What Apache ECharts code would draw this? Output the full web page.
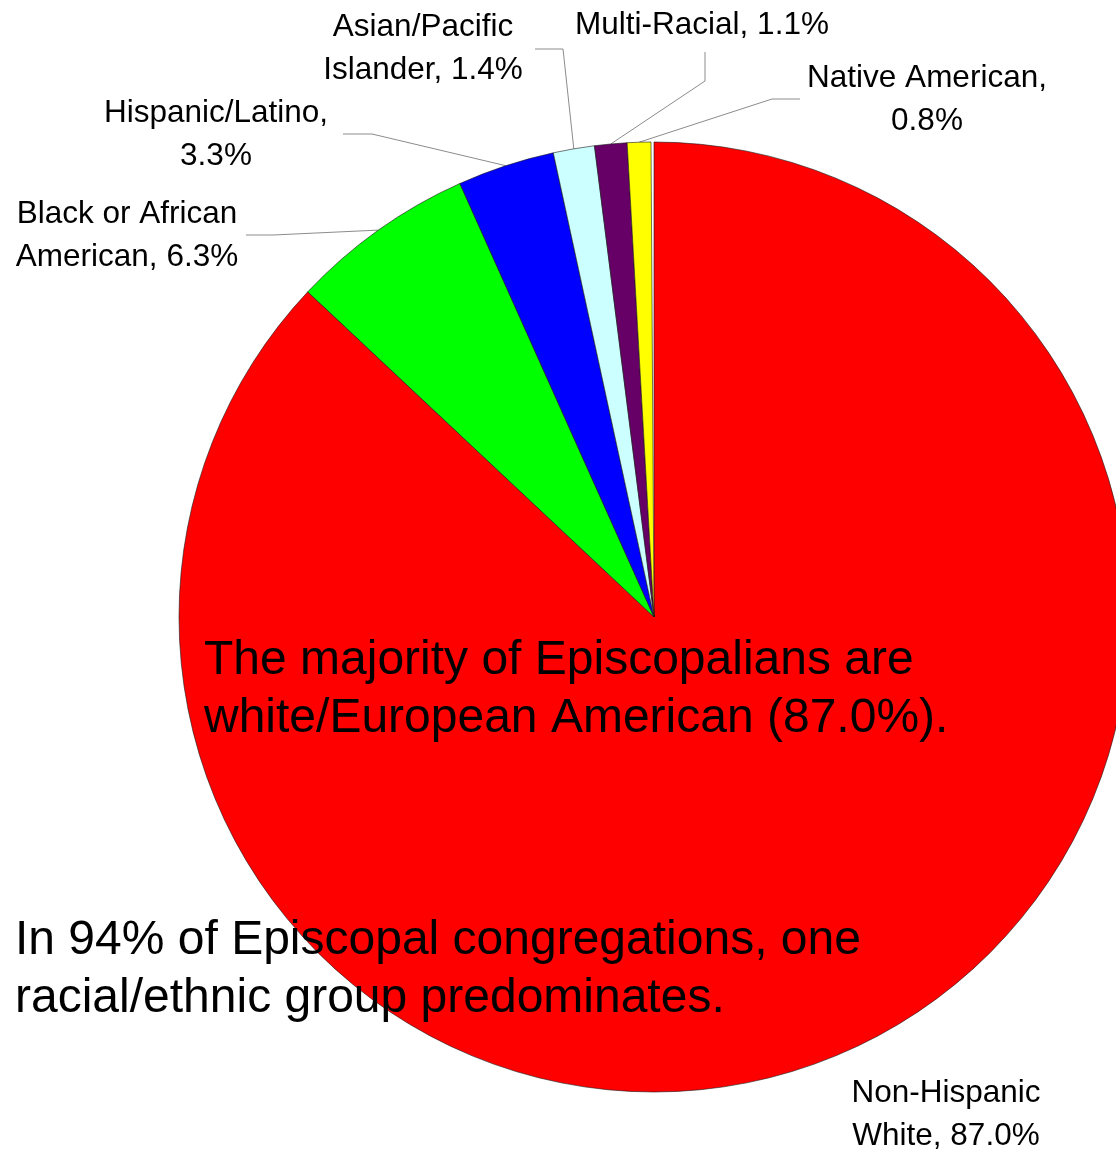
<!DOCTYPE html>
<html>
<head>
<meta charset="utf-8">
<script src="https://cdn.jsdelivr.net/npm/echarts@6/dist/echarts.min.js"></script>
<style>
html,body{margin:0;padding:0;background:#fff;}
#chart{width:1116px;height:1152px;}
</style>
</head>
<body>
<div id="chart"></div>
<script>
// ---- data ----
const categories = ['Non-Hispanic White', 'Black or African American', 'Hispanic/Latino', 'Asian/Pacific Islander', 'Multi-Racial', 'Native American'];
const values = [87.0, 6.3, 3.3, 1.4, 1.1, 0.8];
const colors = ['#FF0000', '#00FF00', '#0000FF', '#CCFFFF', '#660066', '#FFFF00'];
// where each label wraps (display text before the line break)
const labelBreak = ['Non-Hispanic', 'Black or African', 'Hispanic/Latino,', 'Asian/Pacific', null, 'Native American,'];
const note1 = ['The majority of Episcopalians are', 'white/European American (87.0%).'];
const note2 = ['In 94% of Episcopal congregations, one', 'racial/ethnic group predominates.'];

// ---- layout (label placement, not data) ----
const labelCenter = [[946, 1115], [127, 236], [216, 135], [423, 49], [702, 25], [927, 100]];
// [knee, attach] of each leader line
const leader = [null, [[273, 235], [246, 235]], [[372, 134], [343, 134]], [[563, 49], [535, 49]], [[705, 81], [705, 52]], [[772, 99], [800, 99]]];

const FONT = '"Liberation Sans", Arial, Helvetica, sans-serif';
const total = values.reduce((a, b) => a + b, 0);
const startAngle = 90;
const endAngle = startAngle - 360 * total / 100;

function fmt(name, v) {
  const i = categories.indexOf(name);
  let full = name + ', ' + v.toFixed(1) + '%';
  const br = labelBreak[i];
  if (br) full = br + '\n' + full.slice(br.length).replace(/^[\s,]+/, '');
  return full;
}

const chart = echarts.init(document.getElementById('chart'), null, {renderer: 'canvas'});
chart.setOption({
  backgroundColor: '#ffffff',
  animation: false,
  series: [{
    type: 'pie',
    center: [654, 617],
    radius: [0, 475],
    startAngle: startAngle,
    endAngle: endAngle,
    clockwise: true,
    avoidLabelOverlap: false,
    minShowLabelAngle: 0,
    itemStyle: {borderColor: '#1a1a1a', borderWidth: 0.6},
    emphasis: {disabled: true},
    label: {
      show: true,
      position: 'outside',
      color: '#000',
      fontFamily: FONT,
      fontSize: 31.5,
      lineHeight: 43,
      formatter: p => fmt(p.name, p.value)
    },
    labelLine: {show: true, length: 20, length2: 20, lineStyle: {color: '#8c8c8c', width: 1}},
    labelLayout: function (params) {
      const i = params.dataIndex;
      const c = labelCenter[i];
      const out = {x: c[0], y: c[1], align: 'center', verticalAlign: 'middle'};
      if (leader[i] && params.labelLinePoints) {
        const p0 = params.labelLinePoints[0];
        out.labelLinePoints = [[p0[0], p0[1]], leader[i][0], leader[i][1]];
      }
      return out;
    },
    data: categories.map((n, i) => ({
      name: n,
      value: values[i],
      itemStyle: {color: colors[i]},
      labelLine: {show: i !== 0}
    }))
  }],
  graphic: [
    {type: 'text', left: 204, top: 632, z: 100,
     style: {text: note1.join('\n'), font: '48px ' + FONT, fill: '#000', lineHeight: 58}},
    {type: 'text', left: 15, top: 912, z: 100,
     style: {text: note2.join('\n'), font: '48px ' + FONT, fill: '#000', lineHeight: 58}}
  ]
});
</script>
</body>
</html>
